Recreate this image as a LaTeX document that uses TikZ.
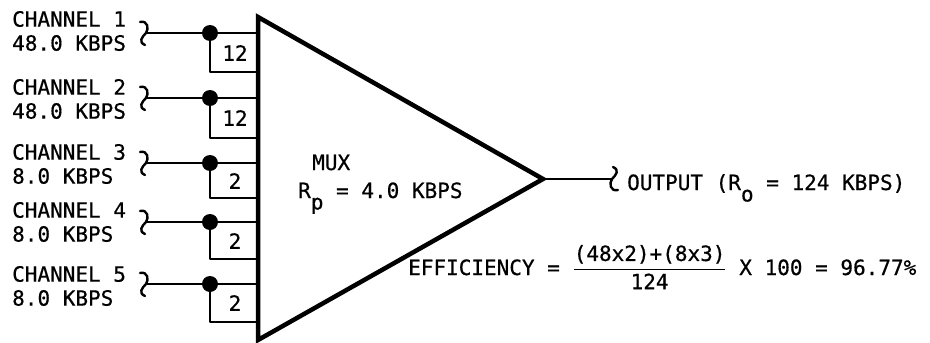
\documentclass[tikz,border=0pt]{standalone}
\usepackage{fontspec}
\usepackage{amsmath}
\setmonofont{DejaVu Sans Mono}[FakeBold=0.6]
\begin{document}
\begin{tikzpicture}
% Multiplexer sketch drawn on the pixel grid of the scan
\def\px{1pt}
\providecommand{\muxWireWidth}{1.8pt}
\providecommand{\muxEdgeWidth}{4.5pt}
\providecommand{\muxDotRadius}{8}
\tikzset{
  lbl/.style={font=\ttfamily\fontsize{21}{24}\selectfont, inner sep=0pt, align=left},
  wire/.style={line width=\muxWireWidth},
  brk/.pic={\draw[line width=2.4pt, line cap=round] (-6,-11) .. controls (2,-13) and (3,-4) .. (0,0) .. controls (-4,4) and (-8,9) .. (-1,12);}
}
\begin{scope}[x=\px, y=-\px, line join=round]
  \useasboundingbox (0,0) rectangle (930,343);
  % Triangle corners
  \coordinate (muxtop) at (258,17);
  \coordinate (muxbot) at (258,340);
  \coordinate (muxtip) at (543,179);
  % Input ends, junctions, edge points and box corners
  \coordinate (in1) at (146,33);  \coordinate (dot1) at (210,33);  \coordinate (edge1) at (258,33);  \coordinate (foot1) at (258,72);
  \coordinate (in2) at (146,98);  \coordinate (dot2) at (210,98);  \coordinate (edge2) at (258,98);  \coordinate (foot2) at (258,138);
  \coordinate (in3) at (146,163); \coordinate (dot3) at (210,163); \coordinate (edge3) at (258,163); \coordinate (foot3) at (258,198);
  \coordinate (in4) at (146,222); \coordinate (dot4) at (210,222); \coordinate (edge4) at (258,222); \coordinate (foot4) at (258,259);
  \coordinate (in5) at (146,284); \coordinate (dot5) at (210,284); \coordinate (edge5) at (258,284); \coordinate (foot5) at (258,322);
  \coordinate (outend) at (612,179);
  % Channel labels
  \node[lbl, anchor=west] (ch1) at (12,31)  {CHANNEL 1\\48.0 KBPS};
  \node[lbl, anchor=west] (ch2) at (12,99)  {CHANNEL 2\\48.0 KBPS};
  \node[lbl, anchor=west] (ch3) at (12,164) {CHANNEL 3\\8.0 KBPS};
  \node[lbl, anchor=west] (ch4) at (12,222) {CHANNEL 4\\8.0 KBPS};
  \node[lbl, anchor=west] (ch5) at (12,286) {CHANNEL 5\\8.0 KBPS};
  % Input wires with break marks
  \pic at (in1) {brk}; \draw[wire] (in1) -- (dot1) -- (edge1);
  \pic at (in2) {brk}; \draw[wire] (in2) -- (dot2) -- (edge2);
  \pic at (in3) {brk}; \draw[wire] (in3) -- (dot3) -- (edge3);
  \pic at (in4) {brk}; \draw[wire] (in4) -- (dot4) -- (edge4);
  \pic at (in5) {brk}; \draw[wire] (in5) -- (dot5) -- (edge5);
  % Character boxes
  \draw[wire] (dot1) |- (foot1);
  \draw[wire] (dot2) |- (foot2);
  \draw[wire] (dot3) |- (foot3);
  \draw[wire] (dot4) |- (foot4);
  \draw[wire] (dot5) |- (foot5);
  \node[lbl] (w1) at (235,53)  {12};
  \node[lbl] (w2) at (235,118) {12};
  \node[lbl] (w3) at (235,181) {2};
  \node[lbl] (w4) at (235,241) {2};
  \node[lbl] (w5) at (235,303) {2};
  \fill (dot1) circle[radius=\muxDotRadius];
  \fill (dot2) circle[radius=\muxDotRadius];
  \fill (dot3) circle[radius=\muxDotRadius];
  \fill (dot4) circle[radius=\muxDotRadius];
  \fill (dot5) circle[radius=\muxDotRadius];
  % Multiplexer body
  \draw[line width=\muxEdgeWidth, line join=miter] (muxtop) -- (muxtip) -- (muxbot) -- cycle;
  \node[lbl, anchor=base west] (mux) at (312,170) {MUX};
  \node[lbl, anchor=base west] (rp) at (298,198) {R\raisebox{-1ex}{p} = 4.0 KBPS};
  % Output
  \draw[wire] (muxtip) -- (outend);
  \pic[rotate=180] at (outend) {brk};
  \node[lbl, anchor=base west] (out) at (627,190) {OUTPUT (R\raisebox{-1ex}{o} = 124 KBPS)};
  % Efficiency
  \node[lbl, anchor=base west] (eff) at (408,275) {EFFICIENCY = $\dfrac{\text{(48x2)+(8x3)}}{\text{124}}$ X 100 = 96.77\%};
\end{scope}
\end{tikzpicture}
\end{document}
